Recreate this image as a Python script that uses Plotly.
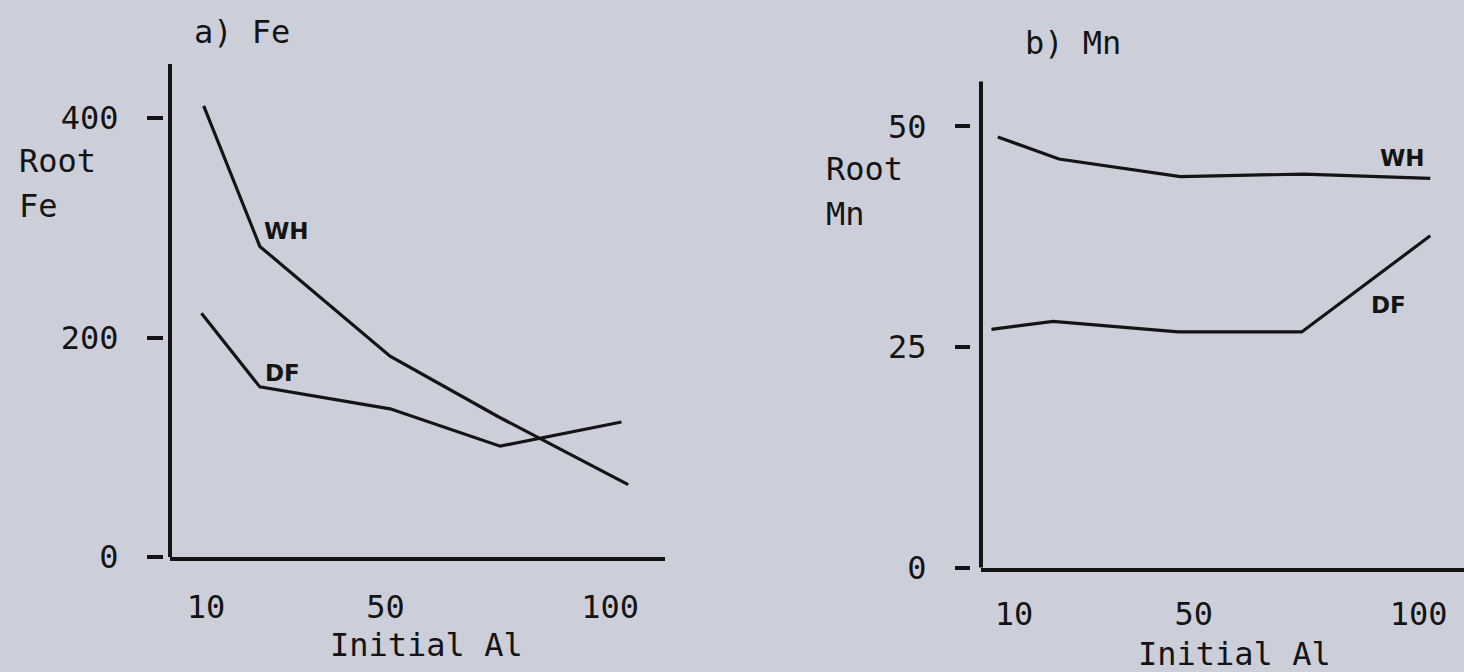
import plotly.graph_objects as go

W, H = 1464, 672          # reference picture size (coordinates below refer to it)
FIG_H = 691               # page height that maps onto the 672-px photograph

# ---------------- data ----------------
# a) Fe panel
fe_wh_x = [9.5, 22, 51, 75, 104]
fe_wh_y = [411, 283, 183, 128, 66]
fe_df_x = [9, 22, 51, 75.5, 102.5]
fe_df_y = [222, 155, 135, 101, 123]

# b) Mn panel
mn_wh_x = [6.4, 20, 47, 74.5, 102.6]
mn_wh_y = [48.8, 46.3, 44.3, 44.6, 44.1]
mn_df_x = [5, 18.7, 46.5, 74, 102.6]
mn_df_y = [27.0, 27.9, 26.7, 26.7, 37.6]

x_ticks = [10, 50, 100]
fe_y_ticks = [0, 200, 400]
mn_y_ticks = [0, 25, 50]

# series label positions (data coords)
fe_labels = [("WH", 28, 297), ("DF", 27, 168)]
mn_labels = [("WH", 96.4, 46.4), ("DF", 93.4, 29.8)]

# ---------------- style ----------------
INK = "#141414"
BG = "#cccfd9"
MONO = "DejaVu Sans Mono"
FS = 32


def px(x):
    return x / W


def py(y):
    return 1 - y / H


fig = go.Figure()

for xs, ys in [(fe_wh_x, fe_wh_y), (fe_df_x, fe_df_y)]:
    fig.add_trace(go.Scatter(x=xs, y=ys, mode="lines", xaxis="x", yaxis="y",
                             line=dict(color=INK, width=3.2), showlegend=False,
                             hoverinfo="skip"))
for xs, ys in [(mn_wh_x, mn_wh_y), (mn_df_x, mn_df_y)]:
    fig.add_trace(go.Scatter(x=xs, y=ys, mode="lines", xaxis="x2", yaxis="y2",
                             line=dict(color=INK, width=3.2), showlegend=False,
                             hoverinfo="skip"))

common_x = dict(showline=True, linewidth=4, linecolor=INK, ticks="",
                tickvals=x_ticks, showgrid=False, zeroline=False,
                tickfont=dict(family=MONO, size=FS, color=INK),
                fixedrange=True)
common_y = dict(anchor="free", showline=False, ticks="outside", tickwidth=4,
                tickcolor=INK, showgrid=False, zeroline=False,
                tickfont=dict(family=MONO, size=FS, color=INK),
                ticklabelstandoff=22, fixedrange=True)

fig.update_layout(
    width=W, height=FIG_H,
    margin=dict(l=0, r=0, t=0, b=0),
    paper_bgcolor=BG, plot_bgcolor=BG,
    xaxis=dict(domain=[px(170), px(665)], range=[2.0, 112.2], anchor="y",
               ticklabelstandoff=19, **common_x),
    yaxis=dict(domain=[py(557), py(64)], range=[0, 449.2], position=px(163),
               ticklen=16, tickvals=fe_y_ticks, **common_y),
    xaxis2=dict(domain=[px(981), 1.0], range=[2.67, 110.1], anchor="y2",
                ticklabelstandoff=15, **common_x),
    yaxis2=dict(domain=[py(567.5), py(81.4)], range=[0, 55.1], position=px(970),
                ticklen=15, tickvals=mn_y_ticks, **common_y),
)

# vertical axis lines (separated from tick marks, as in the original)
for xr, yr in [("x domain", "y domain"), ("x2 domain", "y2 domain")]:
    fig.add_shape(type="line", xref=xr, yref=yr, x0=0, x1=0, y0=0, y1=1.0,
                  line=dict(color=INK, width=4))

# series labels
for txt, x, y in fe_labels:
    fig.add_annotation(text=txt, x=x, y=y, xref="x", yref="y", showarrow=False,
                       font=dict(family="DejaVu Sans", size=23, color=INK, weight="bold"))
for txt, x, y in mn_labels:
    fig.add_annotation(text=txt, x=x, y=y, xref="x2", yref="y2", showarrow=False,
                       font=dict(family="DejaVu Sans", size=23, color=INK, weight="bold"))

# texts placed on the page
texts = [
    ("a) Fe", 192, 32, "left"),
    ("Root", 17, 161, "left"),
    ("Fe", 17, 206, "left"),
    ("Initial Al", 426, 645, "center"),
    ("b) Mn", 1023, 43, "left"),
    ("Root", 824, 169, "left"),
    ("Mn", 824, 214, "left"),
    ("Initial Al", 1234, 654, "center"),
]
for txt, x, y, anc in texts:
    fig.add_annotation(text=txt, x=px(x), y=py(y), xref="paper", yref="paper",
                       xanchor=anc, yanchor="middle", showarrow=False,
                       font=dict(family=MONO, size=FS, color=INK))

fig.write_html(
    "out.html",
    config={"displayModeBar": False},
    post_script=("document.body.style.margin='0';"
                 "document.body.style.overflow='hidden';"
                 "document.body.style.background='" + BG + "';"),
)
